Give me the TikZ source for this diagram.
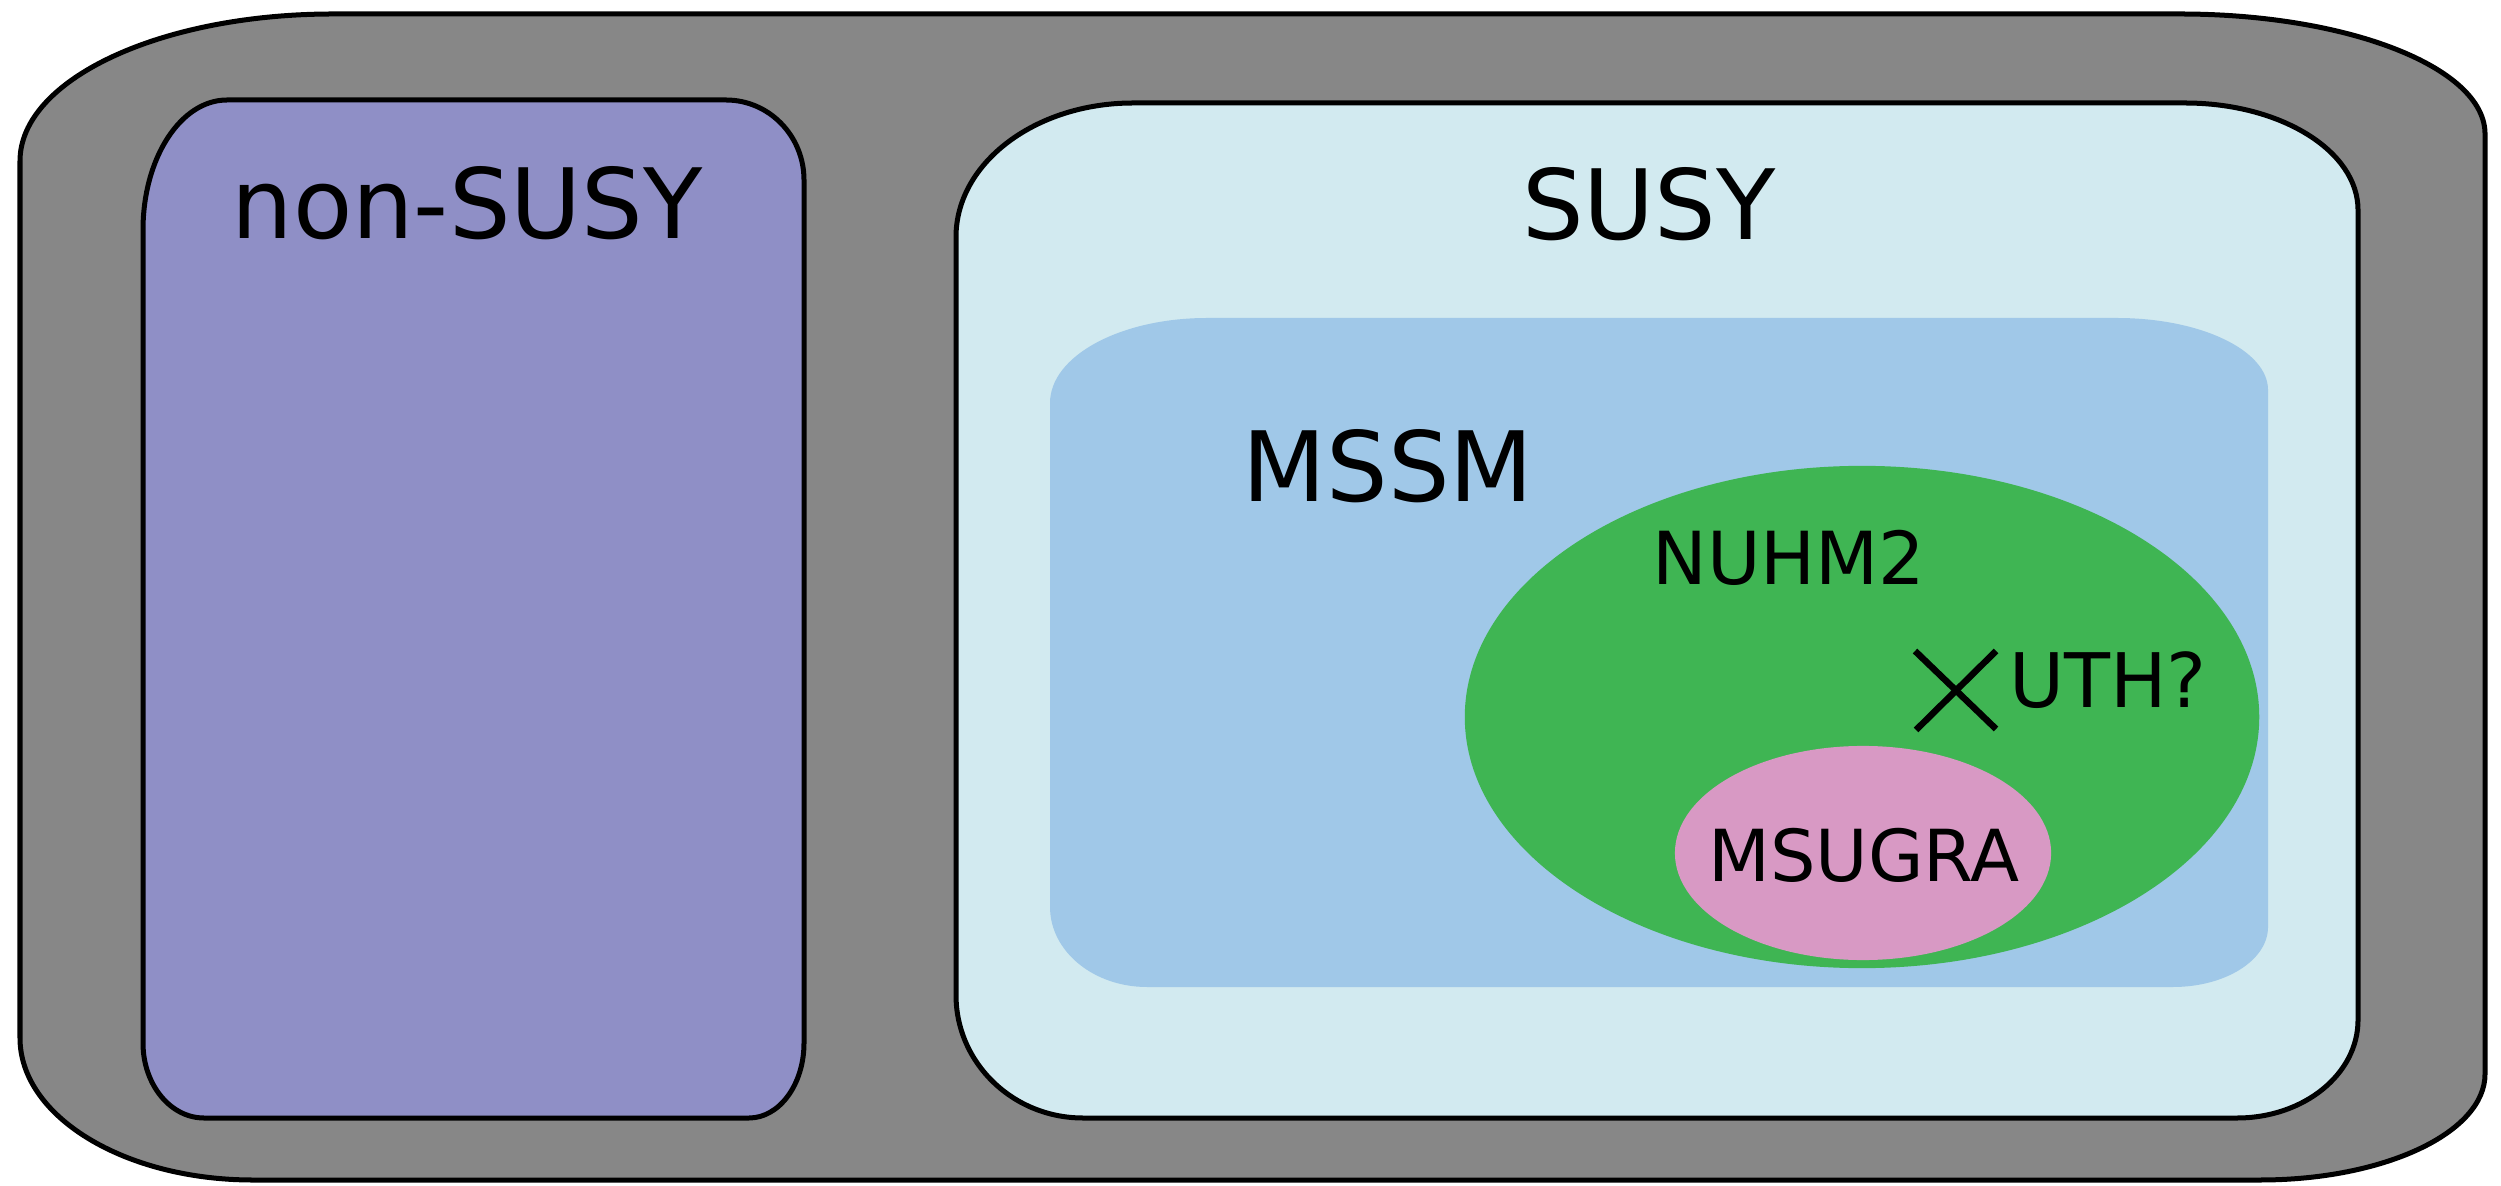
\documentclass[tikz,border=0pt]{standalone}
\usepackage{fontspec}
\setmainfont{DejaVu Sans}

\definecolor{outergray}{HTML}{878787}
\definecolor{nonsusyfill}{HTML}{8F8FC6}
\definecolor{susyfill}{HTML}{D2EAF0}
\definecolor{mssmfill}{HTML}{A0C8E8}
\definecolor{nuhmfill}{HTML}{3FB553}
\definecolor{msugrafill}{HTML}{D899C4}

% corner radii: TL(x,y), TR(x,y), BR(x,y), BL(x,y)
\def\radii#1,#2,#3,#4,#5,#6,#7,#8\relax{%
  \def\ta{#1}\def\tb{#2}\def\tc{#3}\def\td{#4}%
  \def\te{#5}\def\tf{#6}\def\tg{#7}\def\th{#8}}
% box with elliptic corners: style, x1, y1, x2, y2, radii
\newcommand\softbox[6]{%
  \radii#6\relax
  \path[#1]
    (#2,#3+\tb) .. controls (#2,#3+0.4477*\tb) and (#2+0.4477*\ta,#3) .. (#2+\ta,#3)
    -- (#4-\tc,#3) .. controls (#4-0.4477*\tc,#3) and (#4,#3+0.4477*\td) .. (#4,#3+\td)
    -- (#4,#5-\tf) .. controls (#4,#5-0.4477*\tf) and (#4-0.4477*\te,#5) .. (#4-\te,#5)
    -- (#2+\tg,#5) .. controls (#2+0.4477*\tg,#5) and (#2,#5-0.4477*\th) .. (#2,#5-\th)
    -- cycle;}

\tikzset{
  framed/.style={draw=black, line width=0.05cm, line join=round},
  biglabel/.style={anchor=base, inner sep=0pt, font=\fontsize{27.6}{32}\selectfont},
  smalllabel/.style={anchor=base, inner sep=0pt, font=\fontsize{21}{25}\selectfont},
  crossline/.style={line width=0.065cm},
}

\begin{document}
\begin{tikzpicture}[x=0.01cm, y=-0.01cm]
  \useasboundingbox (0,0) rectangle (2501,1186);

  % outer frame
  \softbox{framed, fill=outergray}{20}{14}{2485}{1180}{313,147,305,120,225,106,233,142}

  % non-SUSY region
  \softbox{framed, fill=nonsusyfill}{143}{100}{804}{1118}{84,130,78,80,55,75,61,75}

  % SUSY region
  \softbox{framed, fill=susyfill}{956}{103}{2358}{1118}{177,134,173,107,121,98,127,123}

  % MSSM region
  \softbox{fill=mssmfill}{1050}{318}{2268}{987}{157,85,151,72,95,60,97,80}

  % NUHM2 and MSUGRA ellipses
  \fill[nuhmfill] (1862,717) ellipse [x radius=3.97cm, y radius=2.51cm];
  \fill[msugrafill] (1863,853) ellipse [x radius=1.88cm, y radius=1.07cm];

  % labels
  \node[biglabel] (nonsusy) at (467,239) {non-SUSY};
  \node[biglabel] (susy) at (1649,240) {SUSY};
  \node[biglabel] (mssm) at (1388,502) {MSSM};
  \node[smalllabel, font=\fontsize{20.8}{25}\selectfont] (nuhm) at (1789,585) {NUHM2};
  \node[smalllabel, font=\fontsize{21.4}{25}\selectfont] (uth) at (2108,708) {UTH?};
  \node[smalllabel, font=\fontsize{20.4}{25}\selectfont] (msugra) at (1864,881) {MSUGRA};

  % cross marking the UTH point
  \coordinate (xa) at (1915,651);
  \coordinate (xb) at (1996,729);
  \coordinate (xc) at (1996,651);
  \coordinate (xd) at (1916,730);
  \draw[crossline] (xa) -- (xb);
  \draw[crossline] (xc) -- (xd);
\end{tikzpicture}
\end{document}
